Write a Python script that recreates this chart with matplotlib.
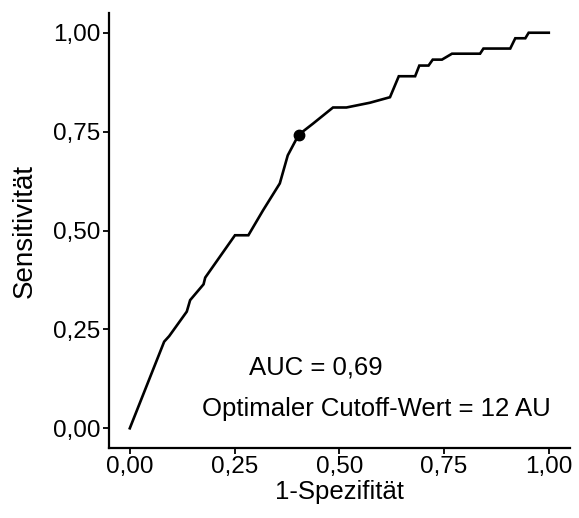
import matplotlib
matplotlib.use("Agg")
import matplotlib.pyplot as plt

# ROC curve
fpr = [0.0, 0.082, 0.094, 0.136, 0.144, 0.176, 0.180, 0.251, 0.283, 0.318,
       0.358, 0.377, 0.403, 0.437, 0.485, 0.517, 0.573, 0.621, 0.642, 0.681,
       0.691, 0.713, 0.723, 0.745, 0.769, 0.836, 0.844, 0.908, 0.920, 0.944,
       0.952, 1.0]
tpr = [0.0, 0.219, 0.233, 0.295, 0.324, 0.364, 0.381, 0.488, 0.488, 0.551,
       0.619, 0.690, 0.742, 0.770, 0.811, 0.811, 0.823, 0.837, 0.890, 0.890,
       0.917, 0.917, 0.932, 0.932, 0.947, 0.947, 0.960, 0.960, 0.986, 0.986,
       1.0, 1.0]
cutoff_point = (0.403, 0.742)
ticks = [0.0, 0.25, 0.5, 0.75, 1.0]
tick_labels = ["0,00", "0,25", "0,50", "0,75", "1,00"]

plt.rcParams["font.family"] = ["Liberation Sans", "DejaVu Sans"]

fig = plt.figure(figsize=(5.79, 5.18), dpi=100)
ax = fig.add_axes([0.188, 0.135, 0.796, 0.84])

ax.plot(fpr, tpr, color="black", linewidth=1.9, solid_joinstyle="miter")
ax.plot(*cutoff_point, "o", color="black", markersize=7.5)

ax.text(0.445, 0.154, "AUC = 0,69", fontsize=18.5, ha="center", va="center")
ax.text(0.589, 0.049, "Optimaler Cutoff-Wert = 12 AU", fontsize=18.5,
        ha="center", va="center")

ax.set_xlim(-0.05, 1.05)
ax.set_ylim(-0.05, 1.05)
ax.set_xticks(ticks)
ax.set_xticklabels(tick_labels)
ax.set_yticks(ticks)
ax.set_yticklabels(tick_labels)
ax.tick_params(labelsize=17.5, length=4, width=1.3, pad=2)

for side in ["top", "right"]:
    ax.spines[side].set_visible(False)
for side in ["left", "bottom"]:
    ax.spines[side].set_linewidth(1.6)

ax.set_xlabel("1-Spezifität", fontsize=18.5, labelpad=1)
ax.set_ylabel("Sensitivität", fontsize=20, labelpad=11)

fig.savefig("out.png", dpi=100)
